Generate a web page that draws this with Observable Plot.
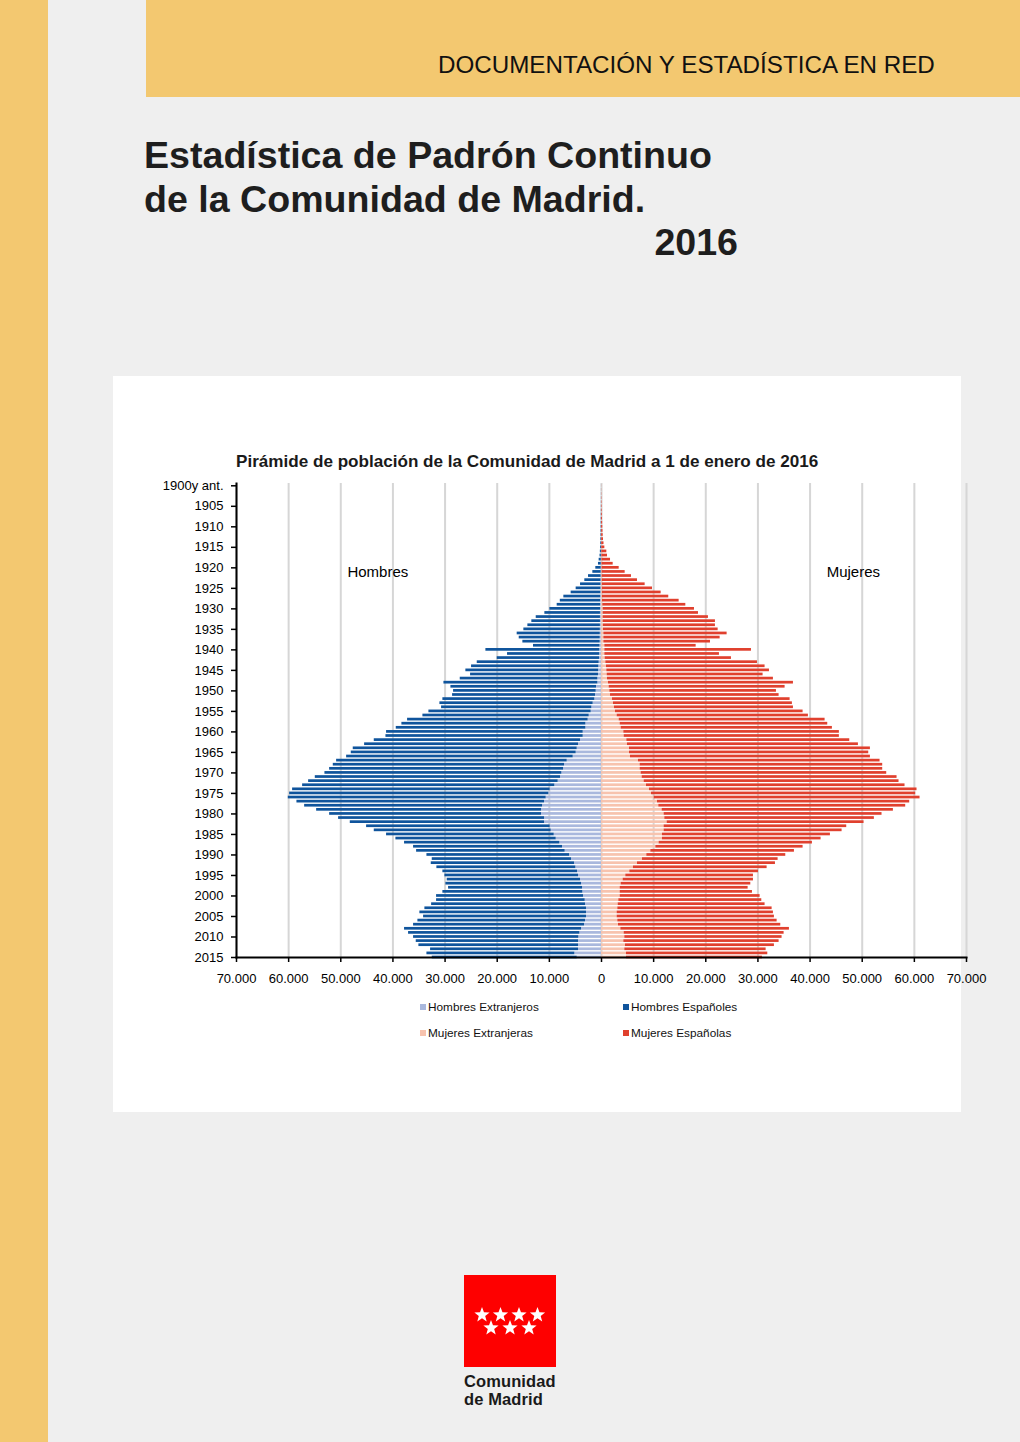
<!DOCTYPE html>
<html lang="es">
<head>
<meta charset="utf-8">
<script src="https://cdn.jsdelivr.net/npm/d3@7"></script>
<script src="https://cdn.jsdelivr.net/npm/@observablehq/plot@0.6"></script>
<style>
  html, body { margin: 0; padding: 0; }
  body { width: 1020px; height: 1442px; background: #efefef; position: relative; overflow: hidden;
         font-family: "Liberation Sans", Arial, Helvetica, sans-serif; color: #000; }
  .strip { position: absolute; left: 0; top: 0; width: 48px; height: 1442px; background: #f3c870; }
  .banner { position: absolute; left: 146px; top: 0; width: 874px; height: 97px; background: #f3c870; }
  .banner span { position: absolute; left: 292px; top: 51px; font-size: 24.2px; color: #111; white-space: nowrap; }
  .title { position: absolute; left: 144px; top: 133px; font-weight: bold; font-size: 37.6px; line-height: 44px; color: #1e1e1e; white-space: nowrap; }
  .title .yr { display: block; width: 594px; text-align: right; line-height: 42px; }
  .panel { position: absolute; left: 113px; top: 376px; width: 848px; height: 736px; background: #fff; }
  .ctitle { position: absolute; left: 236px; top: 452px; font-weight: bold; font-size: 17.1px; color: #1a1a1a; white-space: nowrap; }
  #chart { position: absolute; left: 0; top: 440px; }
  .legend { position: absolute; font-size: 11.8px; color: #111; white-space: nowrap; }
  .legend i { display: inline-block; width: 6px; height: 6px; margin-right: 2px; vertical-align: 1px; }
  .logo { position: absolute; left: 464px; top: 1275px; }
  .logo svg { display: block; }
  .logo .txt { font-weight: bold; font-size: 16.5px; line-height: 18px; color: #1a1a1a; margin-top: 5px; letter-spacing: 0.1px; }
</style>
</head>
<body>
<div class="strip"></div>
<div class="banner"><span>DOCUMENTACIÓN Y ESTADÍSTICA EN RED</span></div>
<div class="title">Estadística de Padrón Continuo<br>de la Comunidad de Madrid.<span class="yr">2016</span></div>
<div class="panel"></div>
<div class="ctitle">Pirámide de población de la Comunidad de Madrid a 1 de enero de 2016</div>
<div id="chart"></div>
<div class="legend" style="left:420px;top:1000px"><i style="background:#a9b8dd"></i>Hombres Extranjeros</div>
<div class="legend" style="left:623px;top:1000px"><i style="background:#0f549c"></i>Hombres Españoles</div>
<div class="legend" style="left:420px;top:1026px"><i style="background:#f7c3ae"></i>Mujeres Extranjeras</div>
<div class="legend" style="left:623px;top:1026px"><i style="background:#e0402e"></i>Mujeres Españolas</div>
<div class="logo">
  <svg id="logoSvg" width="92" height="92" viewBox="0 0 92 92"><rect width="92" height="92" fill="#fe0000"/></svg>
  <div class="txt">Comunidad<br>de Madrid</div>
</div>
<script>
// ---- Data ----
const years = [
  1900,1901,1902,1903,1904,1905,1906,1907,1908,1909,
  1910,1911,1912,1913,1914,1915,1916,1917,1918,1919,
  1920,1921,1922,1923,1924,1925,1926,1927,1928,1929,
  1930,1931,1932,1933,1934,1935,1936,1937,1938,1939,
  1940,1941,1942,1943,1944,1945,1946,1947,1948,1949,
  1950,1951,1952,1953,1954,1955,1956,1957,1958,1959,
  1960,1961,1962,1963,1964,1965,1966,1967,1968,1969,
  1970,1971,1972,1973,1974,1975,1976,1977,1978,1979,
  1980,1981,1982,1983,1984,1985,1986,1987,1988,1989,
  1990,1991,1992,1993,1994,1995,1996,1997,1998,1999,
  2000,2001,2002,2003,2004,2005,2006,2007,2008,2009,
  2010,2011,2012,2013,2014,2015
];
const hombresExtranjeros = [
  2,3,5,5,5,5,5,5,10,10,
  10,10,10,10,20,20,20,30,40,50,
  60,70,80,100,110,120,140,160,180,190,
  190,200,200,200,210,220,230,240,250,280,
  320,340,380,450,510,550,580,700,700,960,
  1020,1150,1280,1600,1850,1980,2360,2560,3000,3000,
  3510,3510,4030,4410,4660,4860,5430,6580,7090,7280,
  7600,7860,8310,8950,9840,10100,10610,10930,11310,11500,
  11500,10930,10930,9840,9650,9070,8690,7990,7480,6970,
  6130,5750,5180,4920,4600,4410,4030,3830,3640,3580,
  3450,3130,3070,2880,2880,2880,3070,3260,3830,4150,
  4350,4410,4410,4410,5110,4660
];
const hombresEspanoles = [
  8,12,15,20,25,30,35,45,50,60,
  70,80,90,110,130,160,200,250,410,530,
  1030,1590,2410,3100,3910,4740,5680,7060,7720,8310,
  9710,10660,12320,13160,13910,14670,15940,15540,14830,12760,
  21850,17680,19620,23380,24410,25460,24530,26390,29520,27920,
  27350,27410,29140,29390,28820,31120,31890,34630,35280,36360,
  37710,37830,39550,41020,42950,43130,43450,44220,44350,44860,
  45440,47030,47860,48370,49400,49710,49460,47480,45620,43130,
  40640,39490,37250,35210,33930,32150,30740,29780,28560,28490,
  27350,26710,27470,26650,25820,25620,25560,26010,25690,26840,
  28180,28500,29510,30990,31950,31240,32140,32780,33940,32850,
  31690,31120,30610,28370,28370,27800
];
const mujeresExtranjeras = [
  2,3,5,5,5,10,10,10,10,15,
  15,20,20,25,30,40,50,60,70,80,
  100,110,120,130,150,160,170,180,190,250,
  320,320,320,320,350,380,450,450,450,640,
  640,640,700,830,960,1020,1090,1150,1340,1470,
  1600,1730,2110,2300,2490,2680,3000,3390,3580,3770,
  4280,4350,4860,4980,5370,5370,5560,7090,7410,7410,
  7600,7800,8180,8630,9200,9590,10100,10740,10990,11630,
  12010,12140,12590,12010,12010,11690,11690,11050,10420,9460,
  8690,7860,6900,6130,5430,4660,4150,3770,3580,3580,
  3580,3320,3200,3130,3000,3000,3130,3260,3710,4350,
  4470,4280,4600,4470,4790,4790
];
const mujeresEspanolas = [
  18,27,45,65,85,100,120,150,180,205,
  235,260,300,355,450,600,970,1090,1660,2160,
  3290,4430,5630,6770,8220,9620,11270,12720,14700,15920,
  17510,18280,20190,21530,21500,21990,23640,22300,20450,17510,
  28120,21980,24220,29080,30410,31190,29900,31820,35470,33740,
  31950,32330,34060,34310,34320,35980,36680,39490,39810,40510,
  41340,41270,42750,44290,46200,45880,46010,46330,46520,46520,
  47100,48880,48880,49580,51310,50670,50990,48370,47350,44350,
  41790,40190,37760,35020,34130,32210,30420,29400,28240,27540,
  26650,26010,26460,25630,24670,24480,24990,24860,24540,25370,
  26840,27420,28170,29590,29970,30160,30550,31120,32330,30670,
  30160,29780,28560,27100,27100,26070
];
const xTicks = [-70000,-60000,-50000,-40000,-30000,-20000,-10000,0,10000,20000,30000,40000,50000,60000,70000];
const yTicks = [1900,1905,1910,1915,1920,1925,1930,1935,1940,1945,1950,1955,1960,1965,1970,1975,1980,1985,1990,1995,2000,2005,2010,2015];
const seriesNames = ["Hombres Extranjeros","Hombres Españoles","Mujeres Extranjeras","Mujeres Españolas"];
const seriesColors = ["#a9b8dd","#0f549c","#f7c3ae","#e0402e"];
const annotations = [
  {label: "Hombres", value: -42900, year: 1921},
  {label: "Mujeres", value: 48300, year: 1921}
];

// ---- Table built from the arrays (stacked outward from zero) ----
const rows = [];
years.forEach((yr, i) => {
  const hx = hombresExtranjeros[i], he = hombresEspanoles[i];
  const mx = mujeresExtranjeras[i], me = mujeresEspanolas[i];
  rows.push({year: yr, serie: seriesNames[0], x1: 0, x2: -hx});
  rows.push({year: yr, serie: seriesNames[1], x1: -hx, x2: -hx - he});
  rows.push({year: yr, serie: seriesNames[2], x1: 0, x2: mx});
  rows.push({year: yr, serie: seriesNames[3], x1: mx, x2: mx + me});
});

const fmt = d => d3.format(",")(Math.abs(d)).replace(/,/g, ".");

const chart = Plot.plot({
  width: 1020,
  height: 557,
  marginLeft: 236,
  marginRight: 54,
  marginTop: 43,
  marginBottom: 40,
  style: {background: "transparent", fontFamily: "Liberation Sans, Arial, sans-serif", fontSize: "13px", color: "#000", overflow: "visible"},
  x: {domain: [-70000, 70000], axis: null},
  y: {domain: years, range: [42.55, 519.75], padding: 0.34, round: false, axis: null},
  color: {domain: seriesNames, range: seriesColors},
  marks: [
    Plot.ruleX(xTicks, {stroke: "#d6d6d6", strokeWidth: 2}),
    Plot.barX(rows, {y: "year", x1: "x1", x2: "x2", fill: "serie"}),
    Plot.text(annotations, {x: "value", y: "year", text: "label", fontSize: 15, fill: "#000"}),
    Plot.frame({anchor: "left", stroke: "#000", strokeWidth: 2}),
    Plot.frame({anchor: "bottom", stroke: "#000", strokeWidth: 2}),
    Plot.axisX(xTicks, {tickSize: 5, tickPadding: 11, tickFormat: fmt, stroke: "#000", strokeWidth: 1.5, fontSize: 13, label: null}),
    Plot.axisY(yTicks, {tickSize: 5, tickPadding: 8, tickFormat: d => d === 1900 ? "1900y ant." : String(d), stroke: "#000", strokeWidth: 1.5, fontSize: 13, label: null})
  ]
});
document.getElementById("chart").appendChild(chart);

// ---- Logo stars (decoration) ----
(function () {
  const svg = d3.select("#logoSvg");
  const star = (cx, cy, R) => {
    const r = R * 0.42, pts = [];
    for (let k = 0; k < 10; k++) {
      const a = -Math.PI / 2 + k * Math.PI / 5, rr = k % 2 ? r : R;
      pts.push([cx + rr * Math.cos(a), cy + rr * Math.sin(a)]);
    }
    return pts.map(p => p.join(",")).join(" ");
  };
  [[18,40],[36.5,40],[55,40],[73.5,40],[27,53],[46,53],[65,53]].forEach(([cx, cy]) => {
    svg.append("polygon").attr("points", star(cx, cy, 8)).attr("fill", "#fff");
  });
})();
</script>
</body>
</html>
